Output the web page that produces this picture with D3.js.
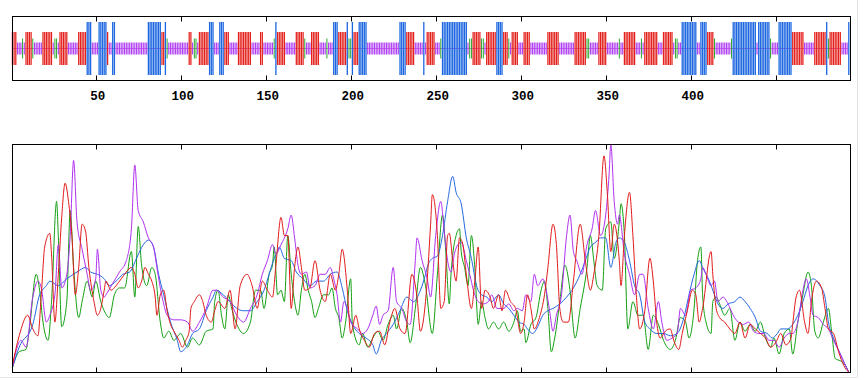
<!DOCTYPE html>
<html>
<head>
<meta charset="utf-8">
<script src="https://cdn.jsdelivr.net/npm/d3@7"></script>
<style>
  body { margin: 0; background: #fff; }
  svg { display: block; }
</style>
</head>
<body>
<script>
///////////////////////////////////////////////////////////////////////////
////////////////////////////////// Data ///////////////////////////////////
///////////////////////////////////////////////////////////////////////////

// secondary structure per residue, as runs: h helix, e extended strand, t beta turn, c random coil
var ssRuns = [
  ['e',3],['c',3],['t',1],['c',1],['e',4],['t',1],['c',5],['e',6],['c',1],['t',2],['c',1],['e',5],['c',6],['e',5],
  ['h',3],['c',4],['h',5],['e',1],['c',2],['h',2],['c',19],['h',8],['e',2],['h',1],['t',1],['c',12],['e',2],['c',1],
  ['t',2],['c',1],['e',6],['h',3],['c',3],['h',3],['e',3],['c',5],['e',8],['c',5],['e',2],['c',6],['t',1],['h',1],
  ['e',5],['c',6],['e',5],['t',1],['c',3],['e',5],['c',4],['t',1],['c',3],['h',3],['e',5],['h',1],['t',2],['h',1],
  ['e',3],['h',5],['c',19],['h',4],['e',5],['c',5],['h',1],['c',1],['e',5],['c',3],['t',1],['h',15],['c',1],['t',2],
  ['e',5],['t',2],['c',1],['e',6],['h',4],['e',3],['t',1],['c',1],['e',4],['c',3],['e',4],['c',10],['e',7],['c',9],
  ['e',7],['t',2],['c',5],['e',5],['c',7],['t',1],['c',2],['e',7],['c',3],['t',1],['c',1],['e',8],['c',3],['e',6],
  ['c',1],['t',2],['c',2],['h',9],['c',2],['h',4],['e',4],['t',1],['c',9],['t',1],['h',14],['c',1],['h',7],['t',1],
  ['c',4],['h',8],['e',7],['c',6],['e',7],['h',1],['t',1],['e',7],['c',4],['h',1]
]

var axisTicks = [50, 100, 150, 200, 250, 300, 350, 400, 450]
var axisLabels = ['50', '100', '150', '200', '250', '300', '350', '400']

// prediction scores along the sequence, [residue, score]
var helixScore = [
  [1,2],[5,11],[13,21],[17,34],[21,38],[23,40],[28,38],[33,41],[39,44],[44,46],[47,44],[51,43],[55,41],[58,38],
  [62,40],[66,43],[70,44],[74,50],[78,56],[81,58],[84,55],[87,43],[90,34],[94,22],[98,14],[100,9],[104,12],[107,17],
  [111,19],[115,27],[119,33],[121,36],[125,34],[129,31],[133,28],[137,27],[141,27],[145,31],[149,36],[152,43],
  [155,50],[157,53],[158,55],[161,50],[165,49],[168,44],[172,41],[176,38],[180,40],[184,40],[188,43],[192,44],
  [195,37],[198,27],[201,21],[205,17],[209,15],[213,12],[215,8],[218,14],[221,17],[225,21],[229,27],[233,33],
  [237,31],[241,36],[244,43],[245,46],[248,50],[251,51],[254,60],[257,75],[260,86],[262,79],[265,74],[268,59],
  [271,50],[274,38],[277,34],[280,33],[283,31],[287,34],[290,30],[293,28],[296,25],[299,22],[302,21],[304,19],
  [307,17],[310,20],[313,25],[316,27],[319,28],[323,30],[327,33],[331,37],[335,43],[338,49],[341,55],[344,57],
  [347,59],[350,59],[353,46],[356,57],[358,59],[361,57],[364,49],[367,38],[370,34],[373,22],[376,19],[380,17],
  [384,17],[388,16],[392,17],[396,24],[399,34],[402,43],[405,49],[407,46],[411,40],[413,36],[416,30],[419,28],
  [422,30],[426,31],[429,33],[432,31],[435,28],[438,24],[441,18],[445,17],[448,15],[451,17],[453,19],[457,19],
  [460,21],[463,25],[466,31],[469,38],[472,41],[476,38],[479,33],[481,22],[484,15],[488,8],[491,3],[493,0]
]

var strandScore = [
  [1,3],[5,16],[10,25],[13,19],[16,16],[18,34],[20,55],[23,61],[24,52],[26,22],[28,43],[30,68],[32,83],[34,75],
  [36,60],[38,34],[40,46],[42,65],[44,62],[46,46],[49,31],[51,25],[53,28],[55,36],[56,40],[59,36],[62,38],[65,41],
  [68,44],[71,46],[73,43],[75,37],[77,40],[79,46],[81,43],[83,40],[85,33],[86,25],[88,34],[90,36],[92,27],[94,21],
  [96,18],[99,14],[101,11],[103,14],[105,18],[106,28],[108,31],[111,34],[113,31],[115,25],[118,22],[120,27],
  [122,31],[126,28],[129,36],[132,19],[135,38],[139,43],[142,38],[145,28],[148,40],[151,36],[154,33],[156,47],
  [159,68],[161,60],[163,60],[165,28],[167,46],[169,55],[171,46],[173,36],[176,37],[179,49],[182,36],[185,31],
  [188,43],[191,36],[193,43],[195,54],[198,36],[200,17],[203,25],[205,19],[208,14],[211,11],[214,17],[217,18],
  [220,12],[223,22],[226,28],[229,19],[232,17],[236,43],[239,33],[241,18],[244,31],[247,65],[248,78],[251,60],
  [253,28],[255,31],[257,60],[258,61],[260,49],[262,40],[264,59],[266,56],[268,43],[271,28],[273,40],[275,55],
  [277,28],[279,36],[282,33],[284,28],[287,34],[289,27],[291,36],[294,31],[297,28],[300,17],[302,22],[304,34],
  [306,28],[308,19],[311,24],[314,34],[316,46],[319,65],[321,56],[323,28],[325,22],[328,22],[331,40],[335,65],
  [338,49],[341,36],[343,43],[346,60],[349,95],[351,78],[353,53],[355,65],[358,49],[359,38],[361,60],[364,79],
  [366,60],[368,34],[370,19],[373,27],[376,50],[378,40],[380,22],[382,15],[385,18],[388,19],[390,14],[393,10],
  [395,17],[398,27],[401,36],[403,34],[405,22],[407,28],[412,53],[413,43],[415,28],[417,24],[420,22],[423,19],
  [426,17],[429,22],[432,15],[435,21],[438,19],[441,17],[444,15],[447,11],[450,13],[453,17],[456,12],[459,15],
  [460,21],[462,33],[464,36],[467,22],[469,17],[471,31],[474,40],[477,37],[479,28],[481,19],[484,17],[487,9],
  [490,3],[493,0]
]

var turnScore = [
  [1,2],[5,9],[9,10],[11,19],[15,43],[17,36],[19,22],[22,14],[24,31],[27,75],[28,60],[30,20],[33,31],[35,71],
  [37,46],[40,24],[42,31],[45,40],[48,33],[50,40],[53,31],[55,27],[58,24],[61,34],[64,37],[67,37],[71,53],[73,33],
  [75,64],[77,47],[80,38],[83,46],[85,43],[88,22],[90,15],[93,18],[96,14],[100,17],[104,11],[107,15],[111,12],
  [115,18],[119,19],[120,31],[122,36],[124,25],[126,19],[128,34],[130,28],[133,21],[137,17],[141,22],[144,36],
  [147,36],[149,28],[152,43],[154,47],[155,55],[157,34],[159,36],[161,31],[163,60],[165,43],[167,31],[169,25],
  [171,36],[173,43],[175,36],[177,31],[179,24],[181,28],[184,34],[187,34],[189,37],[191,28],[193,24],[195,15],
  [197,22],[200,41],[201,21],[205,12],[207,17],[210,11],[213,15],[216,18],[219,14],[222,21],[225,25],[227,19],
  [230,28],[233,22],[235,13],[238,28],[241,46],[244,38],[248,17],[251,43],[254,69],[256,52],[258,30],[259,43],
  [262,60],[264,63],[265,53],[267,46],[269,38],[271,60],[273,46],[275,21],[277,31],[279,24],[281,19],[284,22],
  [287,19],[290,22],[293,18],[296,22],[298,27],[300,18],[302,19],[303,13],[306,21],[309,24],[312,36],[314,40],
  [316,28],[318,9],[320,15],[323,31],[326,47],[329,36],[332,15],[335,28],[339,46],[341,60],[343,49],[345,38],
  [348,36],[350,63],[353,66],[355,50],[358,66],[359,74],[361,60],[363,19],[366,31],[369,25],[372,25],[375,10],
  [378,25],[381,21],[384,14],[388,10],[391,14],[394,24],[397,22],[399,15],[402,28],[404,49],[406,55],[407,34],
  [409,22],[412,17],[413,31],[415,33],[417,30],[420,25],[423,28],[426,14],[429,22],[432,18],[435,21],[438,18],
  [441,22],[444,15],[447,11],[449,15],[452,8],[455,17],[458,19],[460,8],[463,22],[466,34],[469,44],[471,38],
  [473,18],[475,15],[478,22],[481,28],[483,17],[485,6],[488,5],[491,3],[493,0]
]

var coilScore = [
  [1,2],[6,14],[9,11],[13,33],[16,40],[18,37],[21,22],[23,25],[26,34],[28,56],[30,37],[33,43],[35,60],[37,93],
  [39,66],[42,54],[45,43],[47,36],[50,41],[51,54],[53,36],[55,33],[56,34],[60,39],[64,44],[68,49],[71,63],[73,91],
  [75,71],[78,66],[81,59],[84,55],[86,46],[88,37],[90,30],[92,25],[96,23],[100,23],[104,22],[107,18],[111,22],
  [115,28],[119,36],[121,36],[125,33],[129,31],[133,25],[137,22],[141,28],[145,34],[148,43],[151,49],[154,56],
  [156,52],[159,56],[163,63],[165,69],[167,59],[169,47],[171,43],[174,44],[176,37],[179,38],[182,43],[185,43],
  [188,46],[190,41],[192,34],[194,22],[196,31],[198,28],[200,22],[204,19],[207,17],[210,19],[213,25],[215,29],
  [217,21],[219,25],[222,27],[225,46],[227,31],[230,28],[233,22],[235,21],[238,49],[239,59],[242,49],[245,41],
  [247,33],[250,60],[253,75],[255,62],[257,49],[259,44],[261,52],[263,56],[265,57],[268,49],[270,43],[273,34],
  [275,31],[278,30],[281,31],[283,34],[286,28],[290,28],[293,30],[296,27],[298,28],[301,27],[303,34],[306,31],
  [308,43],[310,38],[313,41],[315,36],[317,27],[319,18],[321,25],[324,34],[327,60],[329,69],[331,53],[333,49],
  [336,43],[339,56],[342,63],[344,71],[347,60],[350,69],[352,87],[353,100],[355,75],[357,65],[358,69],[361,52],
  [364,43],[367,34],[370,43],[372,43],[375,28],[378,19],[381,31],[383,22],[386,14],[389,15],[392,17],[394,28],
  [397,25],[400,36],[403,37],[406,41],[407,46],[409,43],[412,38],[414,40],[416,31],[419,33],[422,30],[425,25],
  [428,22],[431,21],[434,22],[437,18],[440,17],[443,17],[446,14],[449,14],[452,11],[455,15],[458,17],[460,17],
  [463,22],[466,36],[468,41],[470,34],[472,25],[475,24],[478,21],[481,19],[484,14],[488,8],[491,3],[493,0]
]

///////////////////////////////////////////////////////////////////////////
///////////////////////////////// Globals /////////////////////////////////
///////////////////////////////////////////////////////////////////////////
var width = 865, height = 380
var frame = {left: 12.5, right: 850.5}
var track = {top: 16.5, bottom: 80.5, mid: 48.5}
var plot = {top: 144.5, bottom: 372.5}

var colors = {h: '#1c66e0', e: '#e3201b', t: '#18a018', c: '#b040f2'}
var halfHeight = {h: 26.5, e: 16.5, t: 10, c: 6}
var barWidth = {h: 1.3, e: 1.25, t: 0.9, c: 1.15}

// expand the runs into one state per residue
var residues = []
ssRuns.forEach(function (r) {
  for (var i = 0; i < r[1]; i++) residues.push({pos: residues.length + 1, state: r[0]})
})

var xScale = d3.scaleLinear()
  .domain([1, 494])
  .range([12.4, 850.5])

var yScale = d3.scaleLinear()
  .domain([0, 100])
  .range([plot.bottom - 0.3, plot.top])

var svg = d3.select('body').append('svg')
  .attr('width', width)
  .attr('height', height)

// faint outer page edge
svg.append('line')
  .attr('x1', 857.5).attr('x2', 857.5).attr('y1', 0).attr('y2', 378)
  .attr('stroke', '#e2e2e2')
svg.append('line')
  .attr('x1', 0).attr('x2', 858).attr('y1', 377.5).attr('y2', 377.5)
  .attr('stroke', '#e8e8e8')

///////////////////////////////////////////////////////////////////////////
///////////////////////////// Structure track /////////////////////////////
///////////////////////////////////////////////////////////////////////////
var gTrack = svg.append('g')

gTrack.append('line')
  .attr('x1', xScale(1)).attr('x2', xScale(residues.length))
  .attr('y1', track.mid).attr('y2', track.mid)
  .attr('stroke', '#e070e8')

gTrack.selectAll('rect.res')
  .data(residues)
  .enter()
  .append('rect')
    .attr('class', 'res')
    .attr('x', d => xScale(d.pos) - barWidth[d.state] / 2)
    .attr('width', d => barWidth[d.state])
    .attr('y', d => track.mid - halfHeight[d.state])
    .attr('height', d => halfHeight[d.state] * 2)
    .attr('fill', d => colors[d.state])

gTrack.append('rect')
  .attr('x', frame.left).attr('y', track.top)
  .attr('width', frame.right - frame.left).attr('height', track.bottom - track.top)
  .attr('fill', 'none').attr('stroke', '#000')

gTrack.selectAll('path.tick')
  .data(axisTicks)
  .enter()
  .append('path')
    .attr('class', 'tick')
    .attr('d', d => {
      var x = Math.round(xScale(d)) + 0.5
      return 'M' + x + ',' + track.top + 'v5M' + x + ',' + track.bottom + 'v-5'
    })
    .attr('stroke', '#000')

gTrack.selectAll('text')
  .data(axisLabels)
  .enter()
  .append('text')
    .attr('x', d => xScale(+d) + 2)
    .attr('y', 100)
    .attr('text-anchor', 'middle')
    .style('font-family', 'Liberation Mono, DejaVu Sans Mono, monospace')
    .style('font-weight', 'bold')
    .style('font-size', '12.5px')
    .text(d => d)

///////////////////////////////////////////////////////////////////////////
////////////////////////////// Score plot /////////////////////////////////
///////////////////////////////////////////////////////////////////////////
var gPlot = svg.append('g')

var line = d3.line()
  .x(d => xScale(d[0]))
  .y(d => yScale(d[1]))
  .curve(d3.curveMonotoneX)

var series = [
  {name: 'turn', data: turnScore, color: '#12a012'},
  {name: 'helix', data: helixScore, color: '#2468e0'},
  {name: 'coil', data: coilScore, color: '#b030f0'},
  {name: 'strand', data: strandScore, color: '#e21a1a'}
]

gPlot.selectAll('path.score')
  .data(series)
  .enter()
  .append('path')
    .attr('class', 'score')
    .attr('d', d => line(d.data))
    .attr('fill', 'none')
    .attr('stroke', d => d.color)
    .attr('stroke-width', 1)

gPlot.append('rect')
  .attr('x', frame.left).attr('y', plot.top)
  .attr('width', frame.right - frame.left).attr('height', plot.bottom - plot.top)
  .attr('fill', 'none').attr('stroke', '#000')

gPlot.selectAll('path.tick')
  .data(axisTicks)
  .enter()
  .append('path')
    .attr('class', 'tick')
    .attr('d', d => {
      var x = Math.round(xScale(d)) + 0.5
      return 'M' + x + ',' + plot.top + 'v5M' + x + ',' + plot.bottom + 'v-5'
    })
    .attr('stroke', '#000')
</script>
</body>
</html>
